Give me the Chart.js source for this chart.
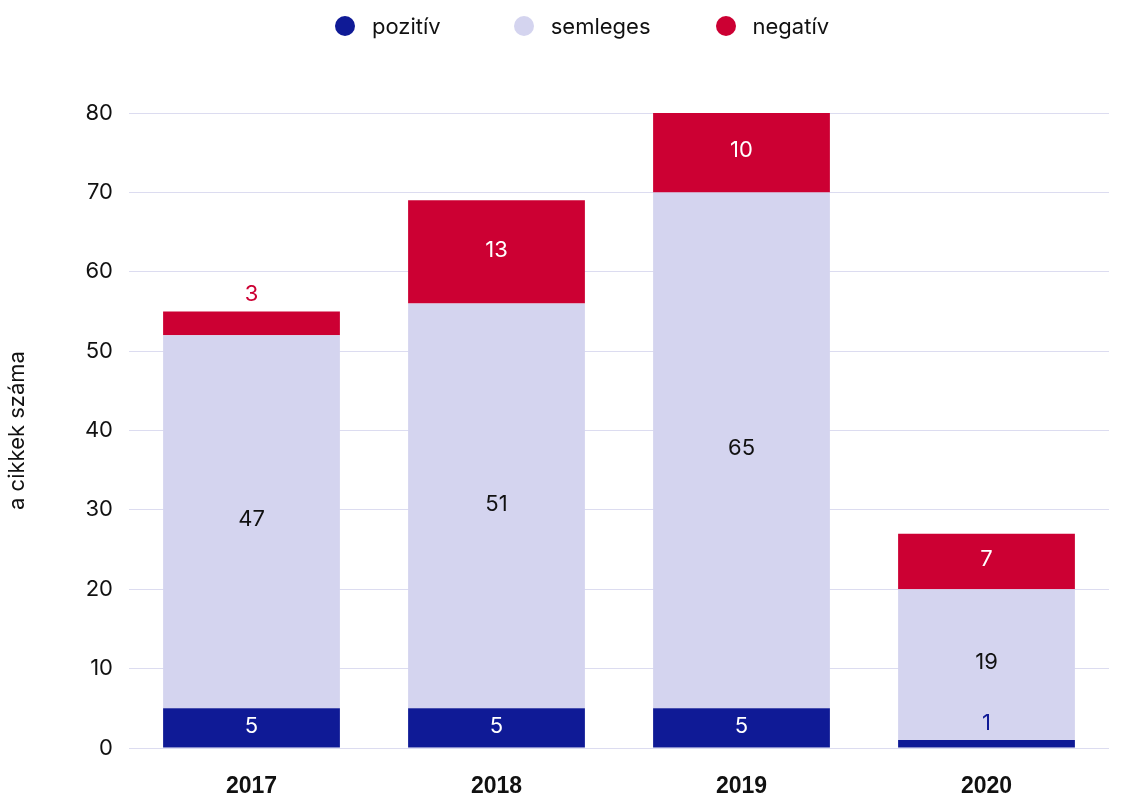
<!DOCTYPE html>
<html>
<head>
<meta charset="utf-8">
<script src="https://cdn.jsdelivr.net/npm/chart.js@4"></script>
<style>
    html, body { margin: 0; padding: 0; background: #ffffff; }
    #wrap { position: relative; width: 1122px; height: 796px; }
    #legend {
        position: absolute; top: 13px; left: 335px;
        display: flex; align-items: center;
        font-family: Inter, sans-serif; font-size: 22px; color: #111;
    }
    .item { display: flex; align-items: center; margin-right: 73px; }
    .item:nth-child(2) { margin-right: 65px; }
    .dot { width: 20px; height: 20px; border-radius: 50%; margin-right: 17px; }
</style>
</head>
<body>
<div id="wrap">
    <canvas id="chart" width="1122" height="796"></canvas>
    <div id="legend"></div>
</div>
<script>
// Chart data
const years = ['2017', '2018', '2019', '2020'];
const seriesNames = ['pozitív', 'semleges', 'negatív'];
const pozitiv = [5, 5, 5, 1];
const semleges = [47, 51, 65, 19];
const negativ = [3, 13, 10, 7];
const yTicks = [0, 10, 20, 30, 40, 50, 60, 70, 80];

const colors = ['#0f1a96', '#d4d4ef', '#cc0033'];
const insideLabelColors = ['#ffffff', '#111111', '#ffffff'];

/**
 * Draws the value of every bar segment; small segments get their
 * label above the bar in the series colour
 */
const segmentLabels = {
    id: 'segmentLabels',
    afterDatasetsDraw(chart) {
        const ctx = chart.ctx;
        ctx.save();
        ctx.font = '22px Inter, sans-serif';
        ctx.textAlign = 'center';
        ctx.textBaseline = 'middle';
        chart.data.datasets.forEach((ds, di) => {
            const meta = chart.getDatasetMeta(di);
            meta.data.forEach((bar, i) => {
                const value = ds.data[i];
                const h = Math.abs(bar.base - bar.y);
                if (h >= 26) {
                    ctx.fillStyle = insideLabelColors[di];
                    ctx.fillText(value, bar.x, (bar.y + bar.base) / 2 - 2);
                } else {
                    ctx.fillStyle = colors[di];
                    ctx.fillText(value, bar.x, bar.y - 17);
                }
            });
        });
        ctx.restore();
    }
};

const datasets = [pozitiv, semleges, negativ].map((values, i) => ({
    label: seriesNames[i],
    data: values,
    backgroundColor: colors[i],
    borderWidth: 0,
    barPercentage: 0.7216,
    categoryPercentage: 1
}));

// HTML legend built from the datasets
const legendEl = document.getElementById('legend');
datasets.forEach(ds => {
    const item = document.createElement('div');
    item.className = 'item';
    item.innerHTML = `<span class="dot" style="background:${ds.backgroundColor}"></span><span>${ds.label}</span>`;
    legendEl.appendChild(item);
});

new Chart(document.getElementById('chart'), {
    type: 'bar',
    data: { labels: years, datasets: datasets },
    options: {
        responsive: false,
        animation: false,
        layout: { padding: { top: 113, right: 13, bottom: 0, left: 0 } },
        plugins: {
            legend: { display: false },
            tooltip: { enabled: false }
        },
        scales: {
            x: {
                stacked: true,
                afterFit: scale => { scale.height = 48; },
                grid: { display: false, drawTicks: false },
                border: { display: false },
                ticks: {
                    color: '#111',
                    padding: 25,
                    font: { family: '"Liberation Sans", Arial, sans-serif', size: 23, weight: 'bold' }
                }
            },
            y: {
                stacked: true,
                min: 0,
                max: 80,
                afterBuildTicks: scale => { scale.ticks = yTicks.map(v => ({ value: v })); },
                afterFit: scale => { scale.width = 129; },
                grid: { color: '#dcdcf0', lineWidth: 1, drawTicks: false },
                border: { display: false },
                ticks: {
                    color: '#111',
                    padding: 16,
                    font: { family: 'Inter, sans-serif', size: 22 }
                },
                title: {
                    display: true,
                    text: 'a cikkek száma',
                    color: '#111',
                    font: { family: 'Inter, sans-serif', size: 22 }
                }
            }
        }
    },
    plugins: [segmentLabels]
});
</script>
</body>
</html>
